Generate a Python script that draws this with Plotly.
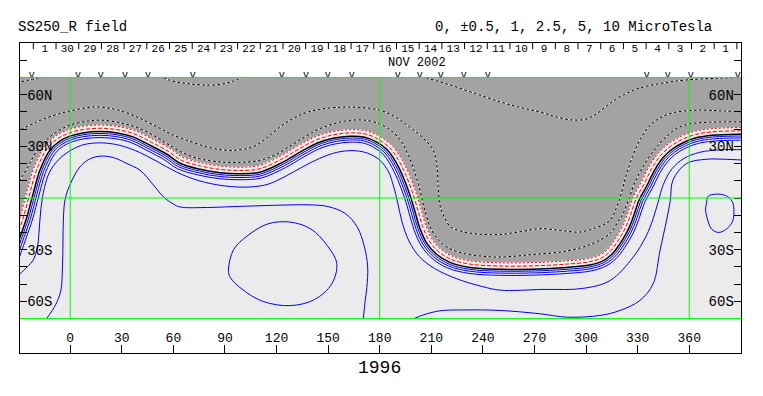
import numpy as np
import plotly.graph_objects as go

# ---------------- data (Carrington lon / lat, degrees) ----------------
neutral_lon = [-32.7, -28.8, -25.4, -21.5, -17.6, -11.8, -6.0, -0.2, 7.4, 17.3, 27.2, 36.5, 46.3, 56.2,
               63.8, 75.5, 87.1, 98.7, 110.3, 123.7, 133.6, 143.5, 152.8, 162.5, 171.3, 178.3, 184.6,
               189.0, 193.6, 197.8, 200.6, 203.2, 207.2, 212.8, 220.8, 232.4, 249.8, 269.1, 288.8,
               302.2, 309.8, 315.0, 319.7, 324.3, 327.4, 330.8, 335.5, 339.8, 344.5, 350.0, 357.0,
               364.0, 373.5, 389.9, 395.1]
neutral_lat = [-32.8, -21.7, -11.8, 2.7, 16.1, 27.7, 33.0, 35.9, 37.8, 38.6, 37.8, 35.5, 30.7, 25.4,
               20.2, 16.7, 14.7, 14.1, 15.0, 20.8, 26.6, 31.8, 34.7, 35.9, 35.3, 32.4, 27.7,
               21.5, 12.2, 1.0, -8.3, -17.2, -26.0, -32.5, -37.4, -40.3, -41.4, -41.3, -40.3,
               -38.9, -36.5, -32.7, -26.6, -18.8, -11.2, -1.3, 7.4, 16.1, 23.1, 28.3, 32.4,
               35.0, 36.5, 37.1, 37.1]

# levels that run parallel to the neutral line, and their distance from it (deg, + = negative side)
band_levels = [-1, -0.5, 0.5, 1, 2.5]
band_dist = [3.8, 1.9, -1.1, -2.2, -3.5]

neg2p5_lon = [-31, -29.2, -24, -21.5, -18, -11.8, -6, -0.2, 8, 17.3, 30, 40, 50, 58, 66, 75, 87, 99, 110,
              118, 126, 134, 143.5, 153, 162, 171, 180, 188, 193, 197, 200, 202.5, 204.5, 206.5, 209,
              213, 219, 228, 240, 250, 269, 288.6, 304, 314, 319, 321.5, 324.6, 328, 333, 339, 346, 353,
              360, 372, 392]
neg2p5_lat = [7, 10.3, 19, 23.9, 29.5, 35.5, 39.5, 42.3, 44.3, 45.2, 43.5, 40.5, 35.5, 30.5, 26, 22.8,
              21, 20.7, 21.8, 24.5, 29, 34, 39.5, 43, 45, 45.2, 43, 38, 32, 24, 16, 8, 0, -8, -16,
              -23, -28.5, -32, -33.8, -34.3, -32.8, -30.8, -26.4, -20.5, -13, -9.1, -1.3, 8, 18, 27,
              35, 40.5, 43, 44, 44.2]

neg5_lon = [-31, -29.2, -20, -10, -0.2, 10, 17.3, 28, 40, 52.3, 60, 67.7, 79.3, 88, 94.8, 102, 108, 115,
            123, 133.6, 145, 162.6, 180, 190, 197.6, 205, 211, 213.3, 214, 215, 217.5, 221, 228, 238,
            250, 262, 273, 285, 296, 305, 314, 317.5, 320, 323, 327, 332, 338, 345, 352, 366, 380, 392]
neg5_lat = [38, 39.3, 44, 47.8, 50.5, 52.5, 52.8, 51, 46.5, 40.4, 36.5, 33.6, 29.7, 28, 27.7, 28.5,
            30.5, 35.5, 42, 48.2, 51.5, 52.8, 51, 46.5, 41, 35, 28, 18, 6.6, -4, -11, -16.5, -19.5,
            -21, -21.2, -19.5, -17.8, -18.8, -19.8, -17.5, -13, -6, 1, 12, 24, 35, 43, 47.5, 49.8,
            51, 50.5, 50]

neg10_pieces = [
    ([-31, -29.2, -24, -17.6], [66.5, 67.3, 68.5, 70]),
    ([54, 58, 65, 73.5, 81, 88.8, 95, 99.7], [70, 68.3, 66.8, 65.9, 65.5, 66.2, 68, 70]),
    ([207, 208, 215, 222, 236, 250, 262, 273, 283, 292, 300, 307, 314, 322, 331, 345, 358, 375, 392],
     [70, 69.5, 67.5, 65.3, 60.5, 55.8, 52.5, 50, 47, 45.3, 45.8, 49.5, 55, 60, 63.8, 66.8, 68.5, 69.5, 70]),
]

pos5_lon = [-31, -29.2, -25, -21.5, -19, -18, -17, -15, -12, -7, 0, 8, 17, 27, 38, 50, 62, 75, 90,
            104.6, 115, 125, 135, 145, 155, 165, 173, 180, 185, 188, 190.5, 193, 197, 203, 212, 225,
            240, 250, 275, 298, 314, 327.4, 335, 339, 342, 345, 350, 357, 366, 378, 392]
pos5_lat = [-45.5, -44, -40, -36, -28, -18, -6, 6, 15, 22, 27.5, 31, 32, 31, 27.5, 21.5, 15, 10, 7,
            6.4, 8, 12.5, 18, 23, 26.5, 27.5, 26, 22, 15.5, 7, -3, -14, -25, -34, -41, -47,
            -51.5, -53.5, -53.1, -52.5, -47.9, -34.3, -22, -12, -2, 8, 17, 23, 26.5, 28, 28]

pos10_pieces = [
    ([-13.7, -8.5, -5.5, -4.5, -4.2, -4, -3, 0, 5.6, 11, 17.3, 25, 33, 40.6, 48, 54.3, 60, 63.8, 80, 100,
      120, 140, 150, 160, 167, 171, 173, 172.5, 171.5, 170.5],
     [-70, -62, -54, -40, -25, -13, -1, 8, 18, 22.5, 24.3, 23.5, 20, 16.1, 8, 0.6, -3.5, -5.2, -5.5,
      -4.8, -4.2, -4, -5, -9, -17, -28, -40, -52, -60, -70]),
    ([200, 205, 215, 230, 250, 273, 289, 308, 319.7, 331.3, 339, 343, 346.8, 349, 350.5, 358.4, 370, 380, 392],
     [-70, -68, -65.5, -65, -65.3, -67.2, -69.2, -68.2, -65.3, -59.5, -49.8, -30.4, -13, -1.3, 10.3, 20,
      22.5, 22.5, 22]),
    ([92, 95, 103, 115, 128, 140, 149, 155, 152, 142, 128, 112, 100, 93, 92],
     [-42, -30, -22, -15, -14, -18, -27, -38, -50, -59, -62.5, -60, -53, -46, -42]),
    ([370, 371, 375, 381, 385, 386, 385, 381, 377, 373, 370.5, 369.5, 370],
     [-3, 1, 2.2, 1.5, -2, -8, -14, -18.5, -20, -18, -12, -7, -3]),
]

# longitudes of the daily observations (the "v" marks along the top)
obs_lon = [-22.3, 4.5, 17.8, 31.8, 45.2, 71.3, 123.1, 137.1, 149.8, 163.8, 190.5, 203.3, 215.5,
           228.9, 242.8, 335.3, 347.5, 360.9, 388.2]

# Carrington rotation 1996 starts (longitude 360) on 2002 Nov 3.1
cr_start_nov = 3.1
deg_per_day = 360 / 27.2753
day_numbers = list(range(1, 32))                       # Nov 1 ... Nov 31 (= Dec 1)
day_labels = [str(d if d <= 30 else d - 30) for d in day_numbers]

lon_ticks = list(range(0, 361, 30))
lat_ticks = list(range(-80, 81, 10))
lat_text = {-60: "60S", -30: "30S", 30: "30N", 60: "60N"}

# ---------------- build figure ----------------
LON_RANGE = [-29.2, 390.1]
FONT = "Liberation Mono"
GRAY = "#a3a3a3"
LIGHT = "#ebebeb"
BLUE = "#0000ff"


def parallel(lon, lat, dist):
    x = np.asarray(lon, float)
    y = np.asarray(lat, float)
    tx = np.gradient(x)
    ty = np.gradient(y)
    n = np.hypot(tx, ty)
    return (x - dist * ty / n).tolist(), (y + dist * tx / n).tolist()


fig = go.Figure()

# negative-polarity (shaded) region: beyond the -1 contour
gx, gy = parallel(neutral_lon, neutral_lat, band_dist[0])
fig.add_trace(go.Scatter(
    x=[gx[0] - 20] + gx + [gx[-1] + 20, gx[-1] + 20, gx[0] - 20],
    y=[gy[0]] + gy + [gy[-1], 70, 70],
    fill="toself", fillcolor=GRAY, line=dict(width=0), mode="lines", hoverinfo="skip"))


def dashed_bw(x, y):
    fig.add_trace(go.Scatter(x=x, y=y, mode="lines", line=dict(color="white", width=1, shape="spline")))
    fig.add_trace(go.Scatter(x=x, y=y, mode="lines",
                             line=dict(color="black", width=1, dash="3px,2px", shape="spline")))


for px_, py_ in neg10_pieces:
    dashed_bw(px_, py_)
dashed_bw(neg5_lon, neg5_lat)
dashed_bw(neg2p5_lon, neg2p5_lat)

for lev, d in zip(band_levels, band_dist):
    bx, by = parallel(neutral_lon, neutral_lat, d)
    if lev == -1:
        fig.add_trace(go.Scatter(x=bx, y=by, mode="lines", line=dict(color="white", width=1, shape="spline")))
        fig.add_trace(go.Scatter(x=bx, y=by, mode="lines",
                                 line=dict(color="red", width=1, dash="2px,2px", shape="spline")))
    elif lev == -0.5:
        fig.add_trace(go.Scatter(x=bx, y=by, mode="lines",
                                 line=dict(color="red", width=1, dash="4px,2px", shape="spline")))
    else:
        fig.add_trace(go.Scatter(x=bx, y=by, mode="lines", line=dict(color=BLUE, width=1, shape="spline")))

fig.add_trace(go.Scatter(x=neutral_lon, y=neutral_lat, mode="lines",
                         line=dict(color="black", width=1.5, shape="spline")))
fig.add_trace(go.Scatter(x=pos5_lon, y=pos5_lat, mode="lines", line=dict(color=BLUE, width=1, shape="spline")))
for px_, py_ in pos10_pieces:
    fig.add_trace(go.Scatter(x=px_, y=py_, mode="lines", line=dict(color=BLUE, width=1, shape="spline")))

day_edges = [360 + (cr_start_nov - d) * deg_per_day for d in range(1, 33)]
day_centers = [360 + (cr_start_nov - d - 0.5) * deg_per_day for d in day_numbers]

# day separators hanging from the top frame, and the day numbers
sep_x, sep_y = [], []
for e in day_edges:
    sep_x += [e, e, None]
    sep_y += [90, 86.4, None]
fig.add_trace(go.Scatter(x=sep_x, y=sep_y, mode="lines", line=dict(color="black", width=1),
                         hoverinfo="skip"))
fig.add_trace(go.Scatter(x=day_centers, y=[86.6] * len(day_centers), mode="text", text=day_labels,
                         textfont=dict(family=FONT, size=11, color="black"), hoverinfo="skip"))

# observation marks
fig.add_trace(go.Scatter(x=obs_lon, y=[71.4] * len(obs_lon), mode="text", text=["v"] * len(obs_lon),
                         textfont=dict(family=FONT, size=10, color="black"), hoverinfo="skip"))
# carrier for the right-hand latitude axis
fig.add_trace(go.Scatter(x=[None], y=[None], mode="markers", xaxis="x", yaxis="y2", hoverinfo="skip"))

shapes = [
    dict(type="rect", xref="paper", yref="y", x0=0, x1=1, y0=-70, y1=70, fillcolor=LIGHT,
         line=dict(width=0), layer="below"),
]
for yv in (-70, 0, 70):
    shapes.append(dict(type="line", xref="paper", yref="y", x0=0, x1=1, y0=yv, y1=yv,
                       line=dict(color="#00ff00", width=1), layer="above"))
for xv in (0, 180, 360):
    shapes.append(dict(type="line", xref="x", yref="y", x0=xv, x1=xv, y0=-70, y1=70,
                       line=dict(color="#00ff00", width=1), layer="above"))

axis_common = dict(showgrid=False, zeroline=False, automargin=False, fixedrange=True)
fig.update_layout(
    # the page adds an 8 px body margin, so the figure is 8 px smaller each way
    width=755, height=388, margin=dict(l=12, r=22, t=35, b=43, autoexpand=False),
    plot_bgcolor="white", paper_bgcolor="white", showlegend=False,
    shapes=shapes,
    xaxis=dict(range=LON_RANGE, tickvals=lon_ticks, ticks="inside", ticklen=8, tickcolor="black",
               ticklabelposition="inside", tickfont=dict(family=FONT, size=13, color="black"),
               showline=True, linecolor="black", linewidth=1, mirror=True, **axis_common),
    yaxis=dict(range=[-90, 90], tickvals=lat_ticks, ticktext=[lat_text.get(v, "") for v in lat_ticks],
               ticks="inside", ticklen=7, tickcolor="black", ticklabelposition="inside",
               tickfont=dict(family=FONT, size=14, color="black"),
               showline=True, linecolor="black", linewidth=1, mirror=True, **axis_common),
    yaxis2=dict(range=[-90, 90], overlaying="y", side="right", anchor="x", tickvals=lat_ticks,
                ticktext=[lat_text.get(v, "") for v in lat_ticks], ticks="inside", ticklen=7,
                tickcolor="black", ticklabelposition="inside", showline=False,
                tickfont=dict(family=FONT, size=14, color="black"), **axis_common),
    annotations=[
        dict(text="SS250_R field", xref="paper", yref="paper", x=-0.0055, y=1.052, xanchor="left",
             yanchor="middle", showarrow=False, font=dict(family=FONT, size=14, color="black")),
        dict(text="0, \u00b10.5, 1, 2.5, 5, 10 MicroTesla", xref="paper", yref="paper", x=0.962, y=1.052,
             xanchor="right", yanchor="middle", showarrow=False, font=dict(family=FONT, size=14, color="black")),
        dict(text="NOV 2002", xref="paper", yref="paper", x=0.5506, y=0.9355, xanchor="center",
             yanchor="middle", showarrow=False, font=dict(family=FONT, size=12, color="black")),
        dict(text="1996", xref="paper", yref="paper", x=0.4993, y=-0.048, xanchor="center",
             yanchor="middle", showarrow=False, font=dict(family=FONT, size=18, color="black")),
    ],
)

fig.write_html("out.html")
